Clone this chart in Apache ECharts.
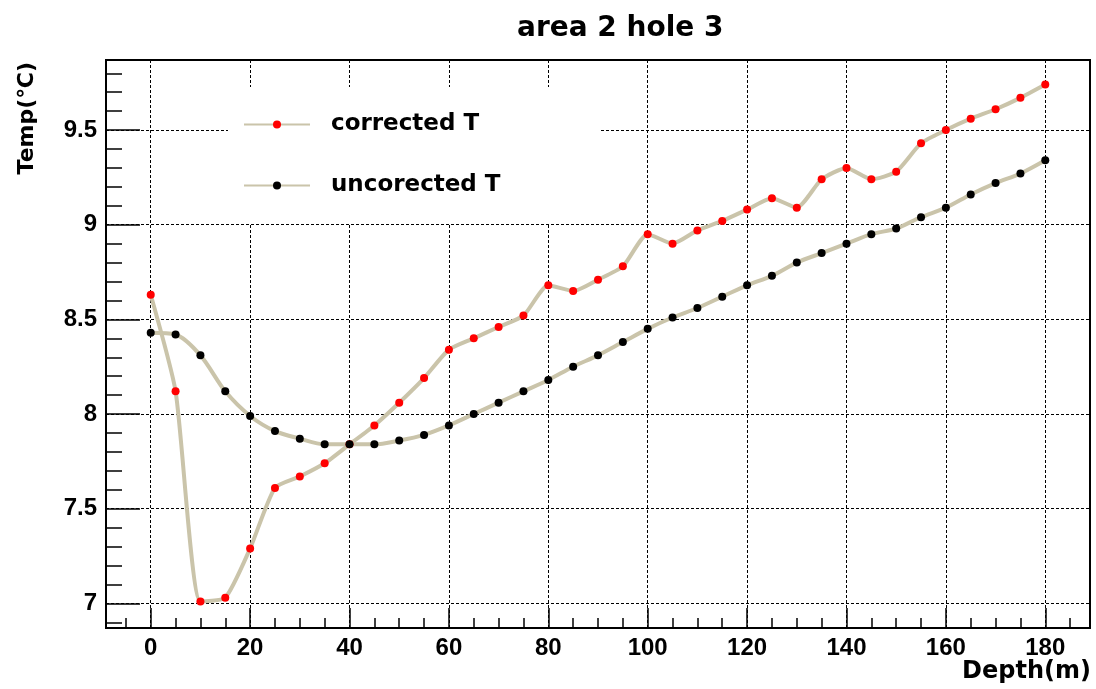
<html>
  <head>
    <meta charset="utf-8">
    <script src="https://cdn.jsdelivr.net/npm/echarts@6/dist/echarts.min.js"></script>
    <style>
      html, body { margin: 0; padding: 0; background: #fff; }
      #main { width: 1096px; height: 689px; }
    </style>
  </head>
  <body>
    <div id="main"></div>
    <script>
      // depth in m, temperature in C
      var depth = [0, 5, 10, 15, 20, 25, 30, 35, 40, 45, 50, 55, 60, 65, 70, 75, 80, 85, 90,
                   95, 100, 105, 110, 115, 120, 125, 130, 135, 140, 145, 150, 155, 160, 165, 170, 175, 180];
      var corrected = [8.63, 8.12, 7.01, 7.03, 7.29, 7.61, 7.67, 7.74, 7.84, 7.94, 8.06, 8.19, 8.34,
                       8.40, 8.46, 8.52, 8.68, 8.65, 8.71, 8.78, 8.95, 8.90, 8.97, 9.02, 9.08, 9.14,
                       9.09, 9.24, 9.30, 9.24, 9.28, 9.43, 9.50, 9.56, 9.61, 9.67, 9.74];
      var uncorrected = [8.43, 8.42, 8.31, 8.12, 7.99, 7.91, 7.87, 7.84, 7.84, 7.84, 7.86, 7.89, 7.94,
                         8.00, 8.06, 8.12, 8.18, 8.25, 8.31, 8.38, 8.45, 8.51, 8.56, 8.62, 8.68, 8.73,
                         8.80, 8.85, 8.90, 8.95, 8.98, 9.04, 9.09, 9.16, 9.22, 9.27, 9.34];

      var xTicks = [0, 20, 40, 60, 80, 100, 120, 140, 160, 180];
      var xMinorTicks = [-5, 5, 10, 15, 25, 30, 35, 45, 50, 55, 65, 70, 75, 85, 90, 95, 105, 110, 115,
                         125, 130, 135, 145, 150, 155, 165, 170, 175, 185];
      var yTicks = [7, 7.5, 8, 8.5, 9, 9.5];
      var yMinorTicks = [6.9, 7.1, 7.2, 7.3, 7.4, 7.6, 7.7, 7.8, 7.9, 8.1, 8.2, 8.3, 8.4, 8.6, 8.7,
                         8.8, 8.9, 9.1, 9.2, 9.3, 9.4, 9.6, 9.7, 9.8];

      var lineColor = '#cac4aa';
      var numFont = { fontFamily: 'Liberation Sans', fontWeight: 'bold', fontSize: 24, color: '#000' };
      var wordFont = 'bold 24px "DejaVu Sans"';

      var myChart = echarts.init(document.getElementById('main'));

      var option = {
        animation: false,
        backgroundColor: '#fff',
        title: {
          text: 'area 2 hole 3',
          left: 512,
          top: 10,
          textStyle: { fontFamily: 'DejaVu Sans', fontWeight: 'bold', fontSize: 28, color: '#000' }
        },
        legend: {
          orient: 'vertical',
          left: 228,
          top: 87,
          padding: [26, 100, 26, 15],
          backgroundColor: '#fff',
          itemWidth: 66,
          itemHeight: 10,
          itemGap: 38,
          textStyle: {
            fontFamily: 'DejaVu Sans', fontWeight: 'bold', fontSize: 23, color: '#000',
            padding: [0, 0, 0, 16]
          },
          data: ['corrected T', 'uncorected T']
        },
        grid: {
          left: 106, right: 6, top: 60, bottom: 61,
          show: true,
          borderColor: '#000',
          borderWidth: 2,
          containLabel: false
        },
        graphic: [
          {
            type: 'text',
            x: 27, y: 62,
            rotation: Math.PI / 2,
            style: { text: 'Temp(℃)', font: 'bold 22px "DejaVu Sans"', fill: '#000',
                     textAlign: 'right', textVerticalAlign: 'middle' }
          },
          {
            type: 'text',
            x: 1091, y: 672,
            style: { text: 'Depth(m)', font: wordFont, fill: '#000',
                     textAlign: 'right', textVerticalAlign: 'middle' }
          }
        ],
        xAxis: [
          {
            type: 'value', min: -9, max: 189,
            axisLine: { show: true, onZero: false, lineStyle: { color: '#000', width: 2 } },
            axisTick: { show: true, inside: true, length: 20, customValues: xTicks,
                        lineStyle: { color: '#000', width: 1.5 } },
            axisLabel: Object.assign({ show: true, margin: 8, customValues: xTicks }, numFont),
            splitLine: { show: true, lineStyle: { color: '#000', width: 1, type: [3, 2] } }
          },
          {
            type: 'value', min: -9, max: 189, position: 'bottom',
            axisLine: { show: false, onZero: false },
            axisTick: { show: true, inside: true, length: 10, customValues: xMinorTicks,
                        lineStyle: { color: '#000', width: 1.5 } },
            axisLabel: { show: false },
            splitLine: { show: false }
          }
        ],
        yAxis: [
          {
            type: 'value', min: 6.87, max: 9.87,
            axisLine: { show: true, onZero: false, lineStyle: { color: '#000', width: 2 } },
            axisTick: { show: true, inside: true, length: 34, customValues: yTicks,
                        lineStyle: { color: '#000', width: 1.5 } },
            axisLabel: Object.assign({ show: true, margin: 9, customValues: yTicks }, numFont),
            splitLine: { show: true, lineStyle: { color: '#000', width: 1, type: [3, 2] } }
          },
          {
            type: 'value', min: 6.87, max: 9.87, position: 'left',
            axisLine: { show: false, onZero: false },
            axisTick: { show: true, inside: true, length: 16, customValues: yMinorTicks,
                        lineStyle: { color: '#000', width: 1.5 } },
            axisLabel: { show: false },
            splitLine: { show: false }
          }
        ],
        series: [
          {
            name: 'corrected T',
            type: 'line',
            smooth: 0.2,
            xAxisIndex: 0, yAxisIndex: 0,
            symbol: 'circle',
            symbolSize: 8,
            itemStyle: { color: '#ff0000' },
            lineStyle: { color: lineColor, width: 4 },
            data: depth.map(function (d, i) { return [d, corrected[i]]; })
          },
          {
            name: 'uncorected T',
            type: 'line',
            smooth: 0.3,
            xAxisIndex: 0, yAxisIndex: 0,
            symbol: 'circle',
            symbolSize: 8,
            itemStyle: { color: '#000' },
            lineStyle: { color: lineColor, width: 4 },
            data: depth.map(function (d, i) { return [d, uncorrected[i]]; })
          }
        ]
      };

      myChart.setOption(option);
    </script>
  </body>
</html>
